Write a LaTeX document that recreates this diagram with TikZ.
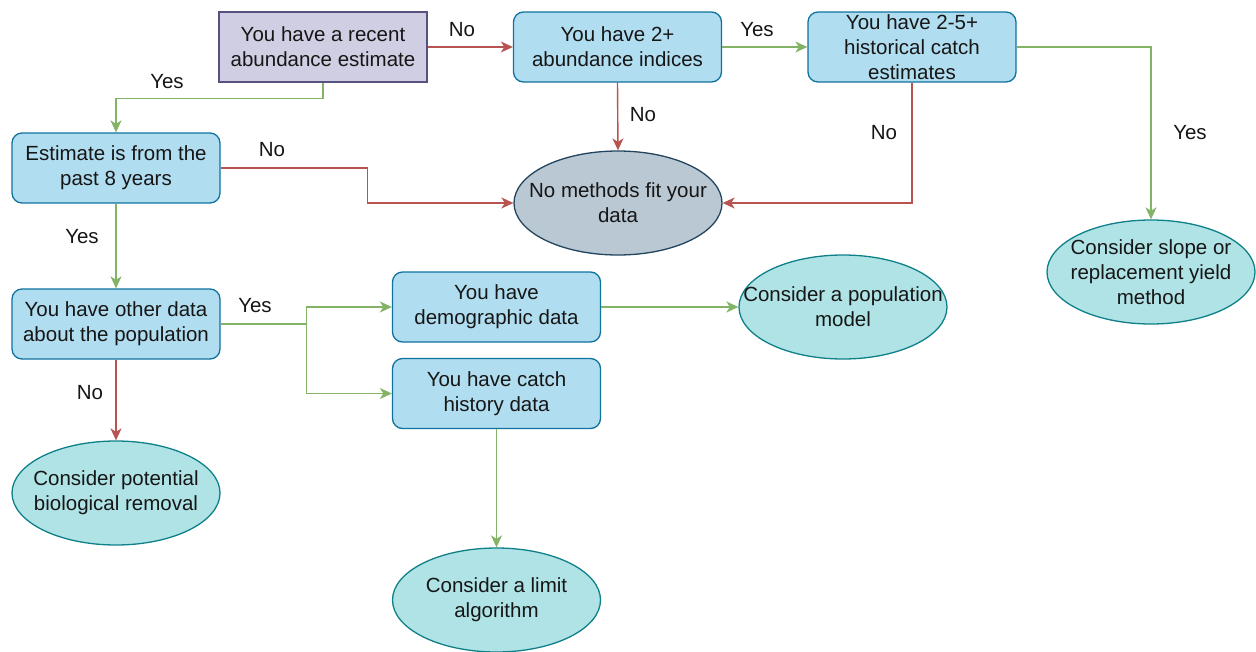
\documentclass[tikz,border=0pt]{standalone}
\usepackage{fontspec}
\setmainfont{Liberation Sans}
\usetikzlibrary{arrows.meta,shapes.geometric}
\definecolor{boxfill}{HTML}{B1DDF0}
\definecolor{boxdraw}{HTML}{10739E}
\definecolor{purfill}{HTML}{D0CEE2}
\definecolor{purdraw}{HTML}{56517E}
\definecolor{grayfill}{HTML}{BAC8D3}
\definecolor{graydraw}{HTML}{23445D}
\definecolor{tealfill}{HTML}{B0E3E6}
\definecolor{tealdraw}{HTML}{0E8088}
\definecolor{yescol}{HTML}{82B366}
\definecolor{nocol}{HTML}{B85450}
\definecolor{txt}{HTML}{161616}
\tikzset{
  x=1pt, y=-1pt,
  every node/.style={font=\fontsize{20.5}{25}\selectfont, text=txt},
  qbox/.style={draw=boxdraw, fill=boxfill, line width=1.3pt, rounded corners=10pt,
    minimum width=208pt, minimum height=70pt, align=center, inner sep=0pt},
  startbox/.style={qbox, draw=purdraw, fill=purfill, rounded corners=0pt},
  endell/.style={ellipse, draw=tealdraw, fill=tealfill, line width=1.3pt,
    minimum width=208pt, minimum height=104pt, inner sep=0pt},
  failell/.style={endell, draw=graydraw, fill=grayfill},
  ylink/.style={draw=yescol, line width=1.4pt, -{Stealth[length=12pt,width=11pt,inset=3.5pt]}},
  nlink/.style={draw=nocol, line width=1.4pt, -{Stealth[length=12pt,width=11pt,inset=3.5pt]}},
  lbl/.style={inner sep=0pt},
  etext/.style={label={[align=center]center:#1}}
}
\begin{document}
\begin{tikzpicture}
\useasboundingbox (0,0) rectangle (1256,651);
% decision boxes
\node[startbox] (A) at (323,47) {You have a recent\\abundance estimate};
\node[qbox] (B) at (617.5,47) {You have 2+\\abundance indices};
\node[qbox] (C) at (912,47) {You have 2-5+\\historical catch\\estimates};
\node[qbox] (E) at (116,168) {Estimate is from the\\past 8 years};
\node[qbox] (F) at (116,324) {You have other data\\about the population};
\node[qbox] (G) at (496.5,307) {You have\\demographic data};
\node[qbox] (H) at (496.5,393.5) {You have catch\\history data};
% outcomes
\node[failell, etext={No methods fit your\\data}] (D) at (618,203) {};
\node[endell, etext={Consider a limit\\algorithm}] (I) at (496.5,600) {};
\node[endell, etext={Consider a population\\model}] (J) at (843,307) {};
\node[endell, etext={Consider slope or\\replacement yield\\method}] (K) at (1151,272) {};
\node[endell, etext={Consider potential\\biological removal}] (L) at (116,493) {};
% connectors
\draw[nlink] (A.east) -- (B.west);
\draw[ylink] (A.south) -- ++(0,16) -| (E.north);
\draw[nlink] (B.south) -- (D.north);
\draw[ylink] (B.east) -- (C.west);
\draw[nlink] (C.south) |- (D.east);
\draw[ylink] (C.east) -| (K.north);
\draw[nlink] (E.east) -- ++(147,0) |- (D.west);
\draw[ylink] (E.south) -- (F.north);
\draw[ylink] (F.east) -- ++(86,0) |- (G.west);
\draw[ylink] (F.east) -- ++(86,0) |- (H.west);
\draw[nlink] (F.south) -- (L.north);
\draw[ylink] (G.east) -- (J.west);
\draw[ylink] (H.south) -- (I.north);
% labels
\node[lbl] (l1) at (462,30) {No};
\node[lbl] (l2) at (167,82) {Yes};
\node[lbl] (l3) at (643,115) {No};
\node[lbl] (l4) at (757,30) {Yes};
\node[lbl] (l5) at (884,133) {No};
\node[lbl] (l6) at (1190,133) {Yes};
\node[lbl] (l7) at (272,150) {No};
\node[lbl] (l8) at (82,237) {Yes};
\node[lbl] (l9) at (255,306) {Yes};
\node[lbl] (l10) at (90,393) {No};
\end{tikzpicture}
\end{document}
